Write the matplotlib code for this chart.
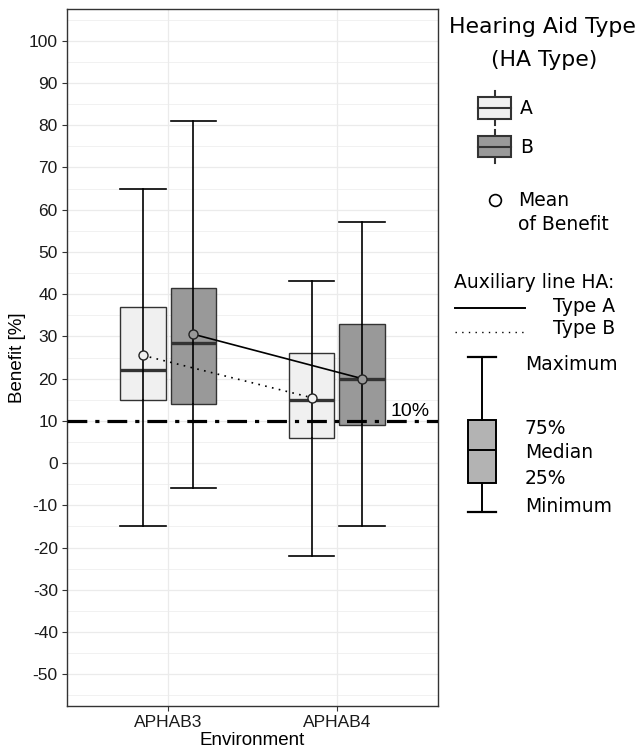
import matplotlib.pyplot as plt
from matplotlib.patches import Rectangle
import numpy as np

plt.rcParams['font.family'] = ['Liberation Sans', 'DejaVu Sans']
plt.rcParams['axes.unicode_minus'] = False

# data
environments = ['APHAB3', 'APHAB4']
ha_types = ['A', 'B']
maximum = {'A': [65, 43], 'B': [81, 57]}
q3 = {'A': [37, 26], 'B': [41.5, 33]}
median = {'A': [22, 15], 'B': [28.5, 20]}
q1 = {'A': [15, 6], 'B': [14, 9]}
minimum = {'A': [-15, -22], 'B': [-6, -15]}
mean = {'A': [25.5, 15.5], 'B': [30.5, 20]}
threshold = 10

fills = {'A': '#F0F0F0', 'B': '#999999'}
offsets = {'A': -0.15, 'B': 0.15}
box_w = 0.27

W, H = 638, 751
fig = plt.figure(figsize=(W / 100, H / 100), dpi=100)
ax = fig.add_axes([67 / W, (H - 706) / H, (438 - 67) / W, (706 - 9) / H])

x = np.arange(1, len(environments) + 1)

for t in ha_types:
    pos = x + offsets[t]
    stats = []
    for i in range(len(environments)):
        stats.append({'whislo': minimum[t][i], 'q1': q1[t][i], 'med': median[t][i],
                      'q3': q3[t][i], 'whishi': maximum[t][i], 'fliers': []})
    ax.bxp(stats, positions=pos, widths=box_w, capwidths=box_w, patch_artist=True,
           showfliers=False, manage_ticks=False,
           boxprops=dict(facecolor=fills[t], edgecolor='#333333', linewidth=1.0),
           medianprops=dict(color='#333333', linewidth=2.4, solid_capstyle='butt'),
           whiskerprops=dict(color='black', linewidth=1.2),
           capprops=dict(color='black', linewidth=1.2))
    # whisker runs through the box
    ax.vlines(pos, q1[t], q3[t], color='black', linewidth=1.2, zorder=3)

ax.axhline(threshold, color='black', linewidth=2.3, dashes=(6.2, 2.5, 1.3, 2.5), zorder=4)
ax.text(2.316, threshold + 1.2, '10%', fontsize=14, color='black', va='baseline', zorder=5)

# auxiliary lines between means
ax.plot(x + offsets['B'], mean['B'], color='black', linewidth=1.2, zorder=5)
ax.plot(x + offsets['A'], mean['A'], color='black', linewidth=1.2,
        linestyle=(0, (1, 3.2)), zorder=5)
for t in ha_types:
    ax.plot(x + offsets[t], mean[t], linestyle='none', marker='o', markersize=6.5,
            markerfacecolor=fills[t], markeredgecolor='#222222', markeredgewidth=1.0, zorder=6)

ax.set_xlim(0.4, 2.6)
ax.set_ylim(-57.5, 107.5)
ax.set_xticks(x)
ax.set_xticklabels(environments)
ax.set_yticks(np.arange(-50, 101, 10))
ax.set_yticks(np.arange(-55, 106, 10), minor=True)
ax.grid(True, which='major', color='#EBEBEB', linewidth=0.9)
ax.grid(True, which='minor', axis='y', color='#EBEBEB', linewidth=0.5)
ax.set_axisbelow(True)
ax.tick_params(which='major', length=3.6, width=0.8, color='#333333', labelsize=12.5,
               labelcolor='#1A1A1A', pad=3)
ax.tick_params(which='minor', length=0)
for s in ax.spines.values():
    s.set_color('#333333')
    s.set_linewidth(1.0)
ax.set_xlabel('Environment', fontsize=13.5, labelpad=1)
ax.set_ylabel('Benefit [%]', fontsize=13.5, labelpad=2)

# legend area, drawn in pixel coordinates
lg = fig.add_axes([0, 0, 1, 1], facecolor='none')
lg.set_xlim(0, W)
lg.set_ylim(H, 0)
lg.axis('off')
lf = 'DejaVu Sans'
lg.text(542, 27, 'Hearing Aid Type', fontsize=15.8, family=lf, ha='center', va='center')
lg.text(544, 60, '(HA Type)', fontsize=15.8, family=lf, ha='center', va='center')

for t, (top, bot) in zip(ha_types, [(97, 119), (136, 157)]):
    lg.plot([494.5, 494.5], [top - 6, bot + 6], color='#333333', linewidth=1.5)
    lg.add_patch(Rectangle((478, top), 33, bot - top, facecolor=fills[t],
                           edgecolor='#333333', linewidth=1.5, zorder=3))
    lg.plot([478, 511], [(top + bot) / 2] * 2, color='#333333', linewidth=1.5, zorder=4)
    lg.text(520, (top + bot) / 2 + 1, t, fontsize=13.5, family=lf, va='center')

lg.plot([495], [200], linestyle='none', marker='o', markersize=8.5,
        markerfacecolor='white', markeredgecolor='black', markeredgewidth=1.2)
lg.text(518, 201, 'Mean', fontsize=13.5, family=lf, va='center')
lg.text(518, 224, 'of Benefit', fontsize=13.5, family=lf, va='center')

lg.text(454, 283, 'Auxiliary line HA:', fontsize=13.5, family=lf, va='center')
lg.plot([455, 525], [308, 308], color='black', linewidth=1.4)
lg.plot([455, 525], [332, 332], color='black', linewidth=1.0, linestyle=(0, (1, 3.8)))
lg.text(553, 306, 'Type A', fontsize=13.5, family=lf, va='center')
lg.text(553, 329, 'Type B', fontsize=13.5, family=lf, va='center')

# explanatory boxplot
key = fig.add_axes([466 / W, (H - 514) / H, 32 / W, 159 / H], facecolor='none')
key_stats = [{'whislo': 0.0, 'q1': 0.187, 'med': 0.4, 'q3': 0.594, 'whishi': 1.0, 'fliers': []}]
key.bxp(key_stats, positions=[0.5], widths=0.875, capwidths=0.875, patch_artist=True,
        showfliers=False, manage_ticks=False,
        boxprops=dict(facecolor='#B3B3B3', edgecolor='black', linewidth=1.4),
        medianprops=dict(color='black', linewidth=1.4),
        whiskerprops=dict(color='black', linewidth=1.4),
        capprops=dict(color='black', linewidth=1.6))
key.set_xlim(0, 1)
key.set_ylim(-0.013, 1.013)
key.axis('off')
for lab, yy in [('Maximum', 364), ('75%', 428), ('Median', 452), ('25%', 479), ('Minimum', 507)]:
    lg.text(525, yy, lab, fontsize=13.5, family=lf, va='center')

fig.savefig('out.png', dpi=100)
